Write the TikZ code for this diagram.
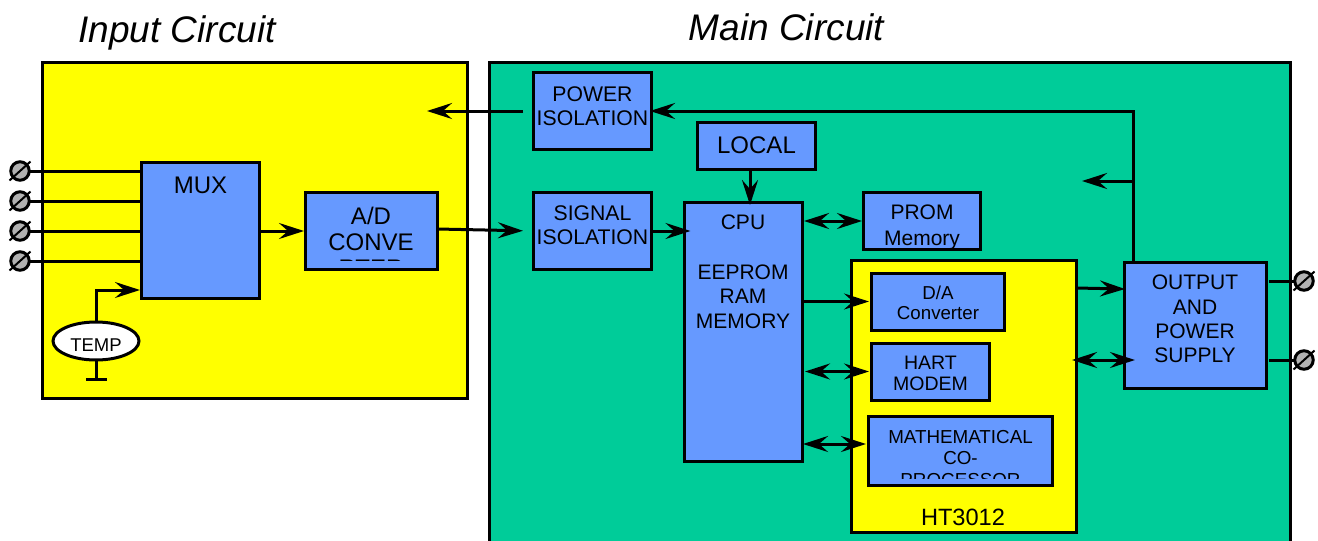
\documentclass[tikz,border=0pt]{standalone}
\usepackage{fontspec}
\setmainfont{Liberation Sans}
\usetikzlibrary{arrows.meta,shapes.geometric}
\definecolor{boxblue}{HTML}{6699FF}
\definecolor{maingreen}{HTML}{00CC99}
\definecolor{inyellow}{HTML}{FFFF00}
\definecolor{termgray}{HTML}{B2B2B2}
\newcommand{\fs}[2]{\fontsize{#1}{#2}\selectfont}
\tikzset{
  x=1pt,y=-1pt,
  outline/.style={draw=black,line width=3pt,inner sep=0pt,outer sep=0pt},
  bluebox/.style={outline,fill=boxblue},
  yellowbox/.style={outline,fill=inyellow},
  lbl/.style={inner sep=0pt,outer sep=0pt,align=center,text=black},
  wire/.style={line width=3pt,line cap=butt},
  tipshape/.tip={Stealth[length=25pt,width=16pt,inset=9pt]},
  arr/.style={wire,-{tipshape}},
  biarr/.style={wire,{tipshape}-{tipshape}},
  terminal/.style={circle,draw=black,fill=termgray,line width=3pt,minimum size=18.5pt,inner sep=0pt,outer sep=0pt},
  slash/.style={line width=2pt},
}
\begin{document}
\begin{tikzpicture}
\useasboundingbox (0,0) rectangle (1318,541);
% titles
\node[lbl,anchor=base,font=\fs{37}{40}\itshape] (titlein) at (177,42) {Input Circuit};
\node[lbl,anchor=base,font=\fs{37}{40}\itshape] (titlemain) at (786.5,40) {Main Circuit};
% panels
\node[yellowbox,minimum width=425pt,minimum height=336pt] (inpanel) at (254.5,230) {};
\fill[maingreen] (489,62) rectangle (1290.5,541);
\draw[line width=3pt] (489,541) -- (489,62) -- (1290.5,62) -- (1290.5,541);
% boxes
\node[bluebox,minimum width=118pt,minimum height=136pt] (mux) at (200,230) {};
\node[bluebox,minimum width=132pt,minimum height=77pt] (ad) at (371,230.5) {};
\node[bluebox,minimum width=118pt,minimum height=77pt] (pwr) at (592,110.5) {};
\node[bluebox,minimum width=118pt,minimum height=77pt] (sig) at (592,230.5) {};
\node[bluebox,minimum width=118pt,minimum height=47pt] (local) at (756,145.5) {};
\node[bluebox,minimum width=118pt,minimum height=259pt] (cpu) at (743,331.5) {};
\node[bluebox,minimum width=117pt,minimum height=57pt] (prom) at (921.5,220.5) {};
\node[yellowbox,minimum width=225pt,minimum height=272pt] (ht) at (963.5,396) {};
\node[bluebox,minimum width=133pt,minimum height=57pt] (da) at (937.5,301.5) {};
\node[bluebox,minimum width=118pt,minimum height=57pt] (hart) at (930,371.5) {};
\node[bluebox,minimum width=184pt,minimum height=69pt] (math) at (960,450.5) {};
\node[bluebox,minimum width=142pt,minimum height=126pt] (out) at (1195,325) {};
\node[ellipse,outline,fill=white,minimum width=86pt,minimum height=38pt] (temp) at (96,341) {};
% labels
\node[lbl,font=\fs{24}{26}] (muxt) at (200.5,185) {MUX};
\begin{scope}
\clip (305,192) rectangle (437,260.6);
\node[lbl,font=\fs{24}{26}] (adt) at (371,242) {A/D\\CONVE\\RTER};
\end{scope}
\node[lbl,font=\fs{18.5}{20}] (tempt) at (96,345) {TEMP};
\node[lbl,font=\fs{21.2}{24}] (pwrt) at (592.5,106) {POWER\\ISOLATION};
\node[lbl,font=\fs{21.2}{24}] (sigt) at (592.5,225) {SIGNAL\\ISOLATION};
\node[lbl,font=\fs{24}{26}] (localt) at (756.5,145) {LOCAL};
\node[lbl,font=\fs{21}{24.5}] (cput) at (743,272) {CPU\\[25pt]EEPROM\\RAM\\MEMORY};
\node[lbl,font=\fs{21}{26}] (promt) at (922,227) {PROM\\Memory};
\node[lbl,font=\fs{18.7}{20.5}] (dat) at (938,303) {D/A\\Converter};
\node[lbl,font=\fs{19.5}{21}] (hartt) at (930.5,373) {HART\\MODEM};
\begin{scope}
\clip (868,416) rectangle (1052,478);
\node[lbl,font=\fs{18.8}{21.5}] (matht) at (960.5,458.5) {MATHEMATICAL\\CO-\\PROCESSOR};
\end{scope}
\node[lbl,font=\fs{21}{24.3}] (outt) at (1195,319) {OUTPUT\\AND\\POWER\\SUPPLY};
\node[lbl,font=\fs{23.6}{26}] (htt) at (963,517) {HT3012};
% free ends
\coordinate (pwrleft) at (427,111);
\coordinate (fbleft) at (1082,181);
\coordinate (fbjoin) at (1133.5,181);
\coordinate (outtop) at (1133.5,111);
\coordinate (gnd) at (96,379);
\coordinate (gndl) at (86,379);
\coordinate (gndr) at (107,379);
\coordinate (tempbend) at (96,290);
% terminals
\foreach \n/\yy in {t1/171,t2/201,t3/231,t4/261}{
  \coordinate (\n c) at (20,\yy);
  \draw[wire] (\n c) -- (mux.west |- \n c);
  \node[terminal] (\n) at (\n c) {};
  \draw[slash] (\n c) ++(-10.5,9.5) -- ++(21,-19);
}
\foreach \n/\yy in {t5/281,t6/360}{
  \coordinate (\n c) at (1304,\yy);
  \draw[wire,shorten <=3pt] (out.east |- \n c) -- (\n c);
  \node[terminal] (\n) at (\n c) {};
  \draw[slash] (\n c) ++(-10.5,9.5) -- ++(21,-19);
}
% connectors
\draw[arr,shorten <=2pt,shorten >=1pt] (mux.east |- 0,231) -- (ad.west |- 0,231);
\draw[arr,shorten >=1pt] (temp.north) -- (tempbend) -- (mux.west |- tempbend);
\draw[wire] (temp.south) -- (gnd);
\draw[wire] (gndl) -- (gndr);
\draw[arr,shorten >=10pt] (ad.east |- 0,229) -- (sig.west |- 0,231);
\draw[arr,shorten >=-6.5pt] (sig.east |- 0,231) -- (cpu.west |- 0,231);
\draw[arr,shorten <=10pt] (pwr.west |- pwrleft) -- (pwrleft);
\draw[arr,shorten >=-1pt] (out.north -| outtop) -- (outtop) -- (pwr.east |- outtop);
\draw[arr] (fbjoin) -- (fbleft);
\draw[arr,shorten >=-3pt] (local.south -| 750,0) -- (cpu.north -| 750,0);
\draw[biarr,shorten <=2pt,shorten >=1pt] (cpu.east |- 0,221) -- (prom.west |- 0,221);
\draw[arr,shorten <=2pt,shorten >=2pt] (cpu.east |- da.west) -- (da.west);
\draw[biarr,shorten <=3pt,shorten >=2pt] (cpu.east |- hart.west) -- (hart.west);
\draw[biarr,shorten <=1pt,shorten >=2pt] (cpu.east |- 0,444) -- (math.west |- 0,444);
\draw[arr,shorten >=-1pt] (ht.east |- 0,288) -- (out.west |- 0,289);
\draw[biarr,shorten <=-4pt,shorten >=-11pt] (ht.east |- 0,360) -- (out.west |- 0,360);
\end{tikzpicture}
\end{document}
